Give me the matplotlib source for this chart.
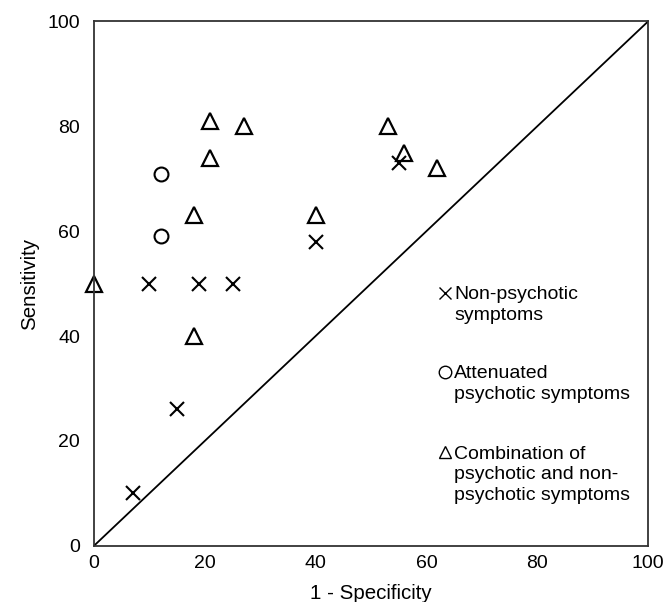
import matplotlib.pyplot as plt

plt.rcParams['font.family'] = ['Liberation Sans', 'DejaVu Sans']

# 1 - specificity / sensitivity
nonpsy_x = [7, 15, 10, 19, 25, 40, 55]
nonpsy_y = [10, 26, 50, 50, 50, 58, 73]

atten_x = [12, 12]
atten_y = [71, 59]

combo_x = [0, 18, 18, 21, 21, 27, 40, 53, 56, 62]
combo_y = [50, 40, 63, 74, 81, 80, 63, 80, 75, 72]

legend_labels = [
    "Non-psychotic\nsymptoms",
    "Attenuated\npsychotic symptoms",
    "Combination of\npsychotic and non-\npsychotic symptoms",
]

fig = plt.figure(figsize=(6.67, 6.02), dpi=100)
ax = fig.add_axes([0.141, 0.0935, 0.8305, 0.8708])

# chance line
ax.plot([0, 100], [0, 100], color='black', lw=1.3)

ax.plot(nonpsy_x, nonpsy_y, 'x', color='black', ms=10, mew=1.5, clip_on=False)
ax.plot(atten_x, atten_y, 'o', mfc='none', mec='black', ms=10, mew=1.5, clip_on=False)
ax.plot(combo_x, combo_y, '^', mfc='none', mec='black', ms=11, mew=1.6, clip_on=False)

# hand made legend, sits inside the plot
leg_y = [48.3, 33.2, 17.9]
markers = ['x', 'o', '^']
for yy, m, lab in zip(leg_y, markers, legend_labels):
    ax.plot([63.4], [yy], m, mfc='none', mec='black', color='black',
            ms=9, mew=1.0)
    ax.text(65.0, yy + 1.2, lab, fontsize=14, va='top', ha='left',
            linespacing=1.3)

ax.set_xlim(0, 100)
ax.set_ylim(0, 100)
ax.set_xticks([0, 20, 40, 60, 80, 100])
ax.set_yticks([0, 20, 40, 60, 80, 100])
ax.tick_params(length=0, labelsize=14)
ax.tick_params(axis='x', pad=7)
ax.tick_params(axis='y', pad=10)
for s in ax.spines.values():
    s.set_color('#333333')
    s.set_linewidth(1.3)

ax.set_xlabel('1 - Specificity', fontsize=14.8, labelpad=8)
ax.set_ylabel('Sensitivity', fontsize=14.8, labelpad=6)

fig.savefig('out.png', dpi=100)
